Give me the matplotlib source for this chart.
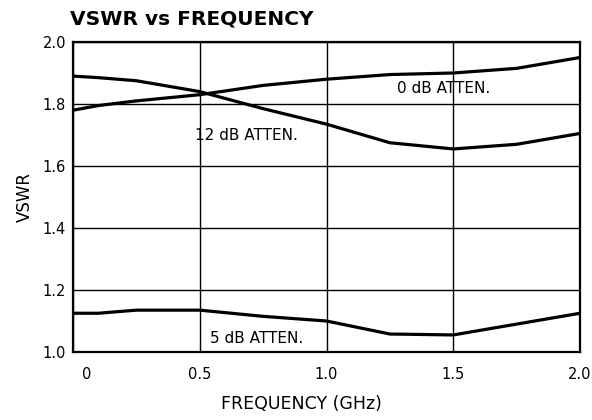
import matplotlib.pyplot as plt
import matplotlib.transforms as mtransforms

# data
freq = [0, 0.1, 0.25, 0.5, 0.75, 1.0, 1.25, 1.5, 1.75, 2.0]
vswr_0db = [1.78, 1.795, 1.81, 1.83, 1.86, 1.88, 1.895, 1.90, 1.915, 1.95]
vswr_12db = [1.89, 1.885, 1.875, 1.84, 1.785, 1.735, 1.675, 1.655, 1.67, 1.705]
vswr_5db = [1.125, 1.125, 1.135, 1.135, 1.115, 1.10, 1.058, 1.055, 1.09, 1.125]

x_ticks = [0, 0.5, 1.0, 1.5, 2.0]
x_labels = ["0", "0.5", "1.0", "1.5", "2.0"]
y_ticks = [1.0, 1.2, 1.4, 1.6, 1.8, 2.0]
y_labels = ["1.0", "1.2", "1.4", "1.6", "1.8", "2.0"]

plt.rcParams['font.family'] = ['DejaVu Sans']

fig = plt.figure(figsize=(5.92, 4.2), dpi=100)
ax = fig.add_axes([73 / 592, 1 - 352 / 420, 507 / 592, 310 / 420])

for ys in (vswr_0db, vswr_12db, vswr_5db):
    ax.plot(freq, ys, color='black', linewidth=2.3, solid_capstyle='butt')

ax.set_xlim(0, 2.0)
ax.set_ylim(1.0, 2.0)
ax.set_xticks(x_ticks)
ax.set_xticklabels(x_labels, fontsize=10.5)
ax.set_yticks(y_ticks)
ax.set_yticklabels(y_labels, fontsize=10.5)
ax.tick_params(axis='x', length=0, pad=11)
ax.tick_params(axis='y', length=0, pad=5)
ax.grid(True, color='black', linewidth=1.0)
for s in ax.spines.values():
    s.set_linewidth(1.6)

# the "0" label sits a bit right of the axis in the original
first = ax.get_xticklabels()[0]
first.set_transform(first.get_transform() +
                    mtransforms.ScaledTranslation(14 / 100, 0, fig.dpi_scale_trans))

ax.set_xlabel("FREQUENCY (GHz)", fontsize=12.5)
ax.xaxis.set_label_coords(0.45, -0.14)
ax.set_ylabel("VSWR", fontsize=12, labelpad=6)
fig.text(70 / 592, 1 - 19 / 420, "VSWR vs FREQUENCY", fontsize=14.5,
         fontweight='bold', va='center', ha='left')

ax.text(1.28, 1.85, "0 dB ATTEN.", fontsize=11, va='center', ha='left')
ax.text(0.48, 1.70, "12 dB ATTEN.", fontsize=11, va='center', ha='left')
ax.text(0.54, 1.045, "5 dB ATTEN.", fontsize=11, va='center', ha='left')

fig.savefig("out.png", dpi=100)
